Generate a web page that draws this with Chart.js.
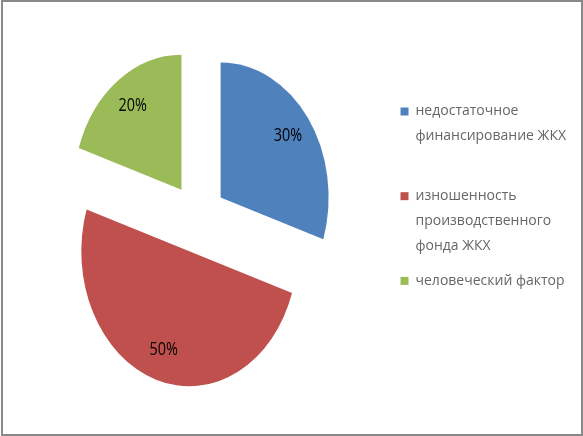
<!DOCTYPE html>
<html>
<head>
<meta charset="utf-8">
<script src="https://cdn.jsdelivr.net/npm/chart.js@4/dist/chart.umd.min.js"></script>
<style>
html,body{margin:0;padding:0;background:#fff;}
#wrap{position:relative;width:583px;height:436px;}
#frame{position:absolute;left:1px;top:0;width:582px;height:436px;box-sizing:border-box;border:2px solid #8a8a8a;pointer-events:none;}
canvas{display:block;}
</style>
</head>
<body>
<div id="wrap"><canvas id="c" width="583" height="436"></canvas><div id="frame"></div></div>
<script>
// ---- data ----
const categories = [
  ['недостаточное', 'финансирование ЖКХ'],
  ['изношенность', 'производственного', 'фонда ЖКХ'],
  ['человеческий фактор']
];
const values = [30, 50, 20];
const valueLabels = ['30%', '50%', '20%'];
const colors = ['#4F81BD', '#C0504D', '#9BBB59'];

// ---- presentation ----
const SX = 0.8;          // horizontal squeeze of the pie (elliptical look)
const RADIUS = 135;
const EXPLODE = 35;      // distance each slice is pulled out
const LABEL_R = 104;

const squeeze = {
  id: 'squeeze',
  beforeDatasetsDraw(chart) {
    const meta = chart.getDatasetMeta(0);
    const cx = meta.data[0].x;
    const ctx = chart.ctx;
    meta.data.forEach(a => {
      if (!a._exploded) {
        const protoDraw = Object.getPrototypeOf(a).draw;
        a.draw = function (c, area) {
          const mid = (this.startAngle + this.endAngle) / 2;
          c.save();
          c.translate(Math.cos(mid) * EXPLODE, Math.sin(mid) * EXPLODE);
          protoDraw.call(this, c, area);
          c.restore();
        };
        a._exploded = true;
      }
    });
    ctx.save();
    ctx.translate(cx, 0);
    ctx.scale(SX, 1);
    ctx.translate(-cx, 0);
  },
  afterDatasetsDraw(chart) {
    const ctx = chart.ctx;
    ctx.restore();
    const meta = chart.getDatasetMeta(0);
    ctx.save();
    ctx.font = '18px "Open Sans"';
    ctx.fillStyle = '#000';
    ctx.textAlign = 'center';
    ctx.textBaseline = 'middle';
    meta.data.forEach((a, i) => {
      const cx = a.x;
      const mid = (a.startAngle + a.endAngle) / 2;
      const r = EXPLODE + LABEL_R;
      const px = a.x + Math.cos(mid) * r;
      const py = a.y + Math.sin(mid) * r;
      const sx = cx + (px - cx) * SX;
      ctx.save();
      ctx.translate(sx, py);
      ctx.scale(SX, 1);
      ctx.fillText(valueLabels[i], 0, 0);
      ctx.restore();
    });
    ctx.restore();
  }
};

new Chart(document.getElementById('c'), {
  type: 'pie',
  data: {
    labels: categories,
    datasets: [{
      data: values,
      backgroundColor: colors,
      borderWidth: 0,
      offset: 0,
      hoverOffset: 0
    }]
  },
  options: {
    responsive: false,
    animation: false,
    events: [],
    radius: RADIUS,
    layout: { padding: { left: 6, right: 7, top: 20, bottom: 20 } },
    plugins: {
      tooltip: { enabled: false },
      legend: {
        position: 'right',
        align: 'start',
        title: { display: true, text: '', padding: { top: 59.5, bottom: 0 }, font: { size: 12, lineHeight: 1.2 } },
        labels: {
          boxWidth: 8,
          boxHeight: 8,
          padding: 10.6,
          color: '#1a1a1a',
          font: { family: 'Open Sans', size: 14, lineHeight: 1.764 },
          generateLabels(chart) {
            return categories.map((lines, i) => {
              const t = lines.slice();
              while (t.length < 3) t.push('');
              return { text: t, fillStyle: colors[i], strokeStyle: colors[i], lineWidth: 0, hidden: false, index: i };
            });
          }
        }
      }
    }
  },
  plugins: [squeeze]
});
</script>
</body>
</html>
